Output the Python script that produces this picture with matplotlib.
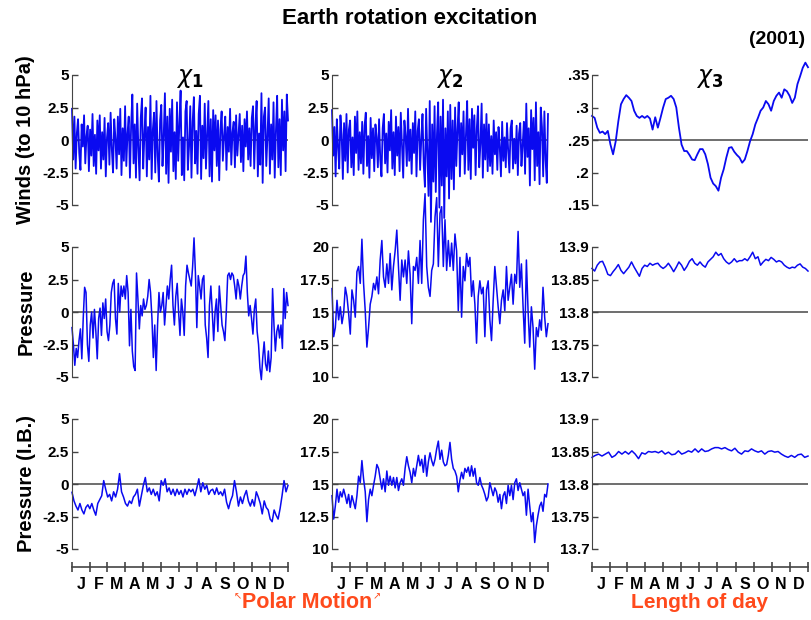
import numpy as np
import matplotlib
matplotlib.use('Agg')
import matplotlib.pyplot as plt

plt.rcParams['font.family'] = ['Liberation Sans', 'DejaVu Sans']
plt.rcParams['mathtext.fontset'] = 'dejavusans'

# ---- data (2001) ----
month_edges = [0, 31, 59, 90, 120, 151, 181, 212, 243, 273, 304, 334, 365]
month_labels = ['J', 'F', 'M', 'A', 'M', 'J', 'J', 'A', 'S', 'O', 'N', 'D']

winds_chi1 = [
    2.4, -1.5, 1.8, -2.2, 0.5, 1.6, -1.0, -2.3, 1.2, -0.5, 1.9, -1.8, 0.3, 1.1, -2.4, 0.8, -1.2, 2.0, -2.0, 0.4,
    -2.6, 1.5, -0.8, 1.9, -2.2, 0.6, -1.5, 1.7, -2.8, 0.2, 1.3, -1.9, 2.1, -0.7, -2.5, 1.6, 0.1, -2.2, 1.8, -1.1,
    2.4, -2.7, 0.9, -1.6, 2.6, -2.0, 0.5, 1.8, -2.9, 1.1,
    3.5, -1.8, 1.2, -2.9, 2.8, -0.6, -3.1, 1.7, 3.2, -2.2, 0.4, 2.5, -2.8, 1.0, -1.5, 3.4, -3.0, 0.8, 2.1, -2.5,
    3.0, -1.2, -3.2, 1.5, 2.7, -2.0, 0.3, 3.6, -2.6, 1.8, -3.3, 2.4, -0.9, 3.1, -2.4, 0.6, -3.0, 2.9, -1.6, 1.3,
    3.8, -2.7, 0.2, -3.1, 2.2, 3.0, -2.3, -0.5, 2.6, -2.9, 1.4, 3.3, -1.8, 0.7, -2.6, 2.0, 3.4, -3.0, 1.1, -1.4,
    2.8, -2.2, 0.5, 3.0, -2.8, 1.6, -3.2, 2.3, -0.8, 1.9,
    -2.0, 1.5, -3.1, 0.8, 2.2, -1.6, 0.3, 1.8, -2.3, 1.0, -0.9, 2.4, -1.9, 0.6, 1.4, -2.1, 1.9, -1.2, 0.4, 2.0,
    -1.7, 1.1, -2.4, 1.6, -0.5, 2.2, -1.5, 0.9, -2.0, 1.7,
    2.6, -2.2, 1.0, 3.0, -2.8, 0.5, -1.9, 3.6, -3.3, 1.8, 2.5, -2.0, 0.3, 3.2, -2.6, 1.2, -1.5, 2.9, -2.9, 0.7,
    3.4, -2.1, 1.6, -2.7, 3.1, -0.8, 2.2, -2.4, 3.5, 1.5,
]
winds_chi2 = [
    2.3, -1.2, 1.0, -2.8, 1.6, -0.5, -2.2, 1.9, 0.4, -3.0, 1.3, -1.6, 2.0, -2.5, 0.8, 1.5, -2.1, 0.2, -2.7, 1.8,
    -1.0, 2.2, -2.3, 0.6, -1.8, 1.4, -2.6, 1.1, 2.1, -2.0, 0.3, -2.9, 1.7, -1.4, 0.9,
    -2.4, 1.2, 0.2, -2.1, 1.6, -1.5, -2.8, 0.9, 2.0, -1.8, 0.5, -2.5, 1.4, -0.8, 2.3, -2.2, 0.6, -2.7, 1.8, -1.2,
    1.0, -2.4, 2.1, -0.4, -2.9, 1.5, 0.3, -2.0, 2.4, -1.6, 0.8, -2.6, 1.3, -1.0, 2.2, -2.8, 0.7, 1.6, -2.3, 0.1,
    2.0, -1.9,
    -3.6, 2.4, -1.0, -4.3, 3.0, -6.3, 1.2, -3.2, 2.6, -4.0, 0.5, 2.9, -5.2, 1.8, -3.5, 3.1, -6.0, 0.9, -2.8, 2.2,
    -4.5, 2.7, -3.0, 1.5, -3.8,
    2.5, -2.0, 0.8, 2.9, -2.8, 1.3, -1.1, 2.2, -2.6, 0.4, 3.0, -2.3, 1.6, -3.0, 2.4, -0.6, 1.9, -2.7, 0.9, 2.6,
    -2.1, -0.3, 2.8, -2.9, 1.2, -1.5, 2.0, -2.4,
    1.2, -2.0, 0.3, -2.6, 1.5, -1.1, 0.6, -2.3, 1.0, -0.5, -2.8, 1.4, -1.6, 0.2, -2.1, 1.3, -0.8, -2.5, 0.9, 1.5,
    -2.2, 0.1, -1.8, 1.1, -2.7, 0.5, 1.3, -2.0, -0.4, 1.4,
    -2.6, 2.8, -1.3, 0.9, -3.5, 2.3, -0.7, 1.7, -3.1, 2.9, -2.0, 0.6, -3.4, 2.5, 1.0, -2.8, 2.2, -1.5, -3.3, 2.0,
]
winds_chi3 = [
    .287, .284, .269, .261, .263, .259, .264, .243, .228, .248, .279, .305, .313, .319, .315, .310, .295, .287,
    .284, .287, .284, .287, .283, .266, .285, .269, .284, .300, .313, .315, .318, .313, .300, .269, .243, .233,
    .233, .227, .220, .219, .228, .236, .236, .228, .213, .192, .183, .179, .172, .192, .205, .223, .238, .239,
    .232, .227, .223, .215, .220, .233, .248, .259, .274, .284, .295, .300, .310, .305, .295, .310, .318, .323,
    .315, .328, .325, .318, .307, .315, .336, .348, .361, .369, .362,
]
pres_chi1 = [
    -1.2, -2.5, -4.1, -2.8, -3.5, -2.2, -1.3, -3.6, -0.5, 1.9, 1.5, -2.5, -3.8, -1.0, 0.0, -2.0, 0.2, -1.5, -3.6,
    -0.5, 0.3, -1.8, 0.7, -0.5, 1.0, -1.5, -2.2, -1.0, 1.5, 2.2, 2.5, -0.5, -1.7, 2.2, 0.0, 2.0, 1.2, 2.0, 1.0,
    2.8, 1.5, -2.6, 0.2, -3.0, -4.2, -4.5, 3.0, 1.0, -1.3, 0.5, -0.3, 1.0, 0.2, 0.5, 1.2, 2.5, 1.5, -0.5, -3.5,
    -1.0, -4.5, -1.0, 1.5, 0.0, 0.5, 1.5, -1.0, 0.5, 2.0, 1.0, 2.5, 3.6, 0.5, -1.0, 1.2, 2.2, 0.0, -1.8, 1.0,
    0.0, -1.8, 2.0, 3.6, 3.0, 2.5, 2.0, 3.5, 5.7, 3.0, -1.2, 2.8, 2.0, 1.0, 2.5, 2.8, -1.0, -2.0, -3.5, 0.5,
    2.0, 0.0, -2.2, 0.0, 1.0, -1.5, 2.0, 0.5, -1.0, -1.5, -2.2, 0.0, 2.8, 3.0, 2.5, 3.0, 2.8, 2.0, 1.0, 2.5,
    2.0, 1.0, 2.0, 2.8, 3.0, 4.3, 1.5, -0.3, 0.5, -0.5, -1.7, 0.2, 1.0, -1.5, -2.5, -4.3, -5.2, -3.5, -2.3,
    -4.0, -4.5, -3.0, -4.6, -3.5, 1.8, -1.0, -3.0, -1.5, -1.0, -2.0, -1.0, -2.8, 1.8, -0.5, 1.5, 0.5,
]
pres_chi2 = [
    16.8, 13.1, 13.8, 15.9, 14.4, 15.4, 14.1, 14.9, 16.9, 16.2, 14.9, 13.3, 16.7, 15.9, 14.6, 18.1, 18.5, 17.2,
    20.6, 17.2, 15.1, 12.3, 13.8, 15.6, 16.2, 17.2, 16.7, 17.7, 16.4, 19.0, 20.5, 17.7, 16.9, 18.7, 17.2, 19.5,
    16.7, 18.5, 19.7, 21.3, 18.5, 15.9, 19.0, 17.7, 19.0, 17.2, 19.7, 17.9, 14.1, 18.5, 18.2, 19.2, 17.2, 20.5,
    17.2, 22.1, 24.1, 18.5, 16.9, 16.2, 18.2, 18.7, 22.3, 23.8, 18.5, 22.6, 23.1, 18.5, 22.1, 18.2, 20.5, 18.5,
    20.3, 18.2, 21.0, 19.7, 15.1, 19.2, 14.6, 18.5, 17.4, 19.5, 18.5, 19.2, 16.2, 17.4, 15.6, 12.6, 16.2, 17.4,
    16.4, 16.9, 13.1, 16.7, 17.4, 14.4, 12.8, 15.9, 18.5, 16.9, 15.4, 14.1, 15.9, 16.7, 15.1, 18.5, 15.9, 16.9,
    17.9, 15.6, 17.9, 17.2, 21.2, 16.9, 18.7, 15.4, 12.6, 19.0, 15.1, 12.3, 15.4, 13.8, 10.6, 13.8, 13.1, 14.4,
    13.6, 16.9, 14.6, 13.1, 14.1,
]
pres_chi3 = [
    13.867, 13.863, 13.872, 13.877, 13.878, 13.869, 13.858, 13.856, 13.862, 13.867, 13.873, 13.864, 13.859,
    13.864, 13.869, 13.877, 13.869, 13.862, 13.855, 13.867, 13.872, 13.870, 13.875, 13.872, 13.874, 13.875,
    13.870, 13.867, 13.870, 13.875, 13.869, 13.862, 13.869, 13.877, 13.872, 13.864, 13.870, 13.878, 13.882,
    13.875, 13.872, 13.877, 13.872, 13.869, 13.877, 13.881, 13.885, 13.892, 13.887, 13.890, 13.882, 13.877,
    13.874, 13.877, 13.882, 13.877, 13.879, 13.879, 13.882, 13.879, 13.885, 13.892, 13.882, 13.885, 13.872,
    13.877, 13.881, 13.879, 13.884, 13.881, 13.877, 13.879, 13.877, 13.872, 13.869, 13.867, 13.869, 13.868,
    13.872, 13.874, 13.869, 13.867, 13.863,
]
ib_chi1 = [
    -0.64, -1.3, -1.7, -2.0, -1.5, -2.0, -2.3, -1.8, -1.6, -1.9, -1.5, -2.0, -2.4, -1.5, -1.2, -0.9, 0.26, -0.4,
    -1.0, -0.8, -1.3, -0.6, -1.0, -0.4, 0.8, -0.6, -1.0, -1.5, -1.7, -1.3, -1.5, -1.0, -0.8, -0.4, -1.7, -0.9,
    -0.1, 0.5, -0.6, -0.3, -0.8, -0.4, -0.9, -0.6, -1.3, 0.26, -0.1, 0.4, -0.6, -0.3, -0.8, -0.4, -0.9, -0.4,
    -0.8, -0.5, -1.0, -0.4, -0.8, -0.4, -0.6, -0.4, -0.9, -0.3, 0.4, -0.6, 0.1, -0.4, -0.1, -0.8, -0.5, -0.4,
    -0.8, -0.3, -0.8, -0.6, -0.9, -0.4, -1.4, -1.9, -1.3, -0.9, 0.26, -0.6, -1.7, -1.0, -1.5, -0.9, -0.5, -1.3,
    -1.7, -1.2, -1.7, -0.6, -1.0, -1.5, -2.3, -1.3, -1.8, -2.0, -2.7, -2.9, -2.0, -2.4, -2.7, -1.9, -0.9, 0.26,
    -0.6, -0.1,
]
ib_chi2 = [
    14.1, 12.3, 13.3, 14.6, 13.6, 14.4, 14.0, 14.6, 14.1, 13.5, 14.2, 13.2, 14.1, 13.6, 13.1, 14.1, 15.6, 15.1,
    16.8, 15.4, 14.4, 12.1, 13.8, 14.6, 14.1, 14.9, 15.6, 16.5, 16.2, 15.4, 14.6, 15.4, 14.4, 16.0, 14.9, 15.6,
    14.9, 15.5, 14.7, 15.5, 14.5, 15.1, 15.4, 14.9, 16.2, 17.1, 16.4, 15.9, 15.1, 16.2, 15.6, 16.4, 17.2, 16.4,
    16.9, 15.9, 17.2, 15.6, 16.7, 17.4, 16.8, 16.4, 16.9, 17.7, 18.3, 16.9, 17.6, 16.7, 16.4, 16.5, 17.2, 18.2,
    16.9, 16.2, 16.0, 15.6, 14.4, 15.3, 15.9, 15.4, 16.2, 15.9, 16.3, 15.6, 16.4, 15.6, 16.2, 15.1, 14.9, 15.5,
    14.9, 14.6, 14.2, 13.7, 14.0, 15.1, 14.6, 14.1, 14.7, 14.4, 13.6, 14.2, 13.1, 14.1, 14.4, 13.5, 14.9, 14.1,
    14.9, 13.8, 15.1, 15.4, 14.5, 15.1, 14.6, 14.1, 14.4, 12.6, 14.6, 13.3, 12.1, 12.8, 10.5, 11.8, 12.6, 13.3,
    13.6, 12.9, 14.2, 14.0, 15.0,
]
ib_chi3 = [
    13.841, 13.844, 13.846, 13.843, 13.846, 13.849, 13.841, 13.844, 13.850, 13.846, 13.850, 13.846, 13.851,
    13.846, 13.839, 13.848, 13.846, 13.850, 13.849, 13.850, 13.848, 13.851, 13.846, 13.849, 13.845, 13.846,
    13.851, 13.846, 13.848, 13.851, 13.849, 13.854, 13.849, 13.854, 13.850, 13.851, 13.854, 13.856, 13.856,
    13.854, 13.856, 13.853, 13.851, 13.855, 13.849, 13.846, 13.851, 13.850, 13.854, 13.851, 13.849, 13.851,
    13.846, 13.850, 13.851, 13.849, 13.850, 13.846, 13.843, 13.841, 13.844, 13.841, 13.845, 13.846, 13.841,
    13.843,
]

rows = [
    [winds_chi1, winds_chi2, winds_chi3],
    [pres_chi1, pres_chi2, pres_chi3],
    [ib_chi1, ib_chi2, ib_chi3],
]
yticks = [
    [[-5, -2.5, 0, 2.5, 5], [-5, -2.5, 0, 2.5, 5], [.15, .2, .25, .3, .35]],
    [[-5, -2.5, 0, 2.5, 5], [10, 12.5, 15, 17.5, 20], [13.7, 13.75, 13.8, 13.85, 13.9]],
    [[-5, -2.5, 0, 2.5, 5], [10, 12.5, 15, 17.5, 20], [13.7, 13.75, 13.8, 13.85, 13.9]],
]
ytick_labels = [
    [['-5', '-2.5', '0', '2.5', '5'], ['-5', '-2.5', '0', '2.5', '5'], ['.15', '.2', '.25', '.3', '.35']],
    [['-5', '-2.5', '0', '2.5', '5'], ['10', '12.5', '15', '17.5', '20'], ['13.7', '13.75', '13.8', '13.85', '13.9']],
    [['-5', '-2.5', '0', '2.5', '5'], ['10', '12.5', '15', '17.5', '20'], ['13.7', '13.75', '13.8', '13.85', '13.9']],
]
row_labels = ['Winds (to 10 hPa)', 'Pressure', 'Pressure (I.B.)']
col_titles = [r'$\chi_\mathbf{1}$', r'$\chi_\mathbf{2}$', r'$\chi_\mathbf{3}$']
line_widths = [1.3, 1.1, 1.1]

# ---- figure ----
W, H = 812, 620
fig = plt.figure(figsize=(W / 100, H / 100), dpi=100)

lefts = [72, 332, 592]
tops = [75, 247, 419]
aw, ah = 216, 130
gray = '#444444'

for r in range(3):
    for c in range(3):
        ax = fig.add_axes([lefts[c] / W, (H - tops[r] - ah) / H, aw / W, ah / H])
        vals = rows[r][c]
        days = np.linspace(0, 365, len(vals))
        ref = yticks[r][c][2]
        ax.axhline(ref, color='#555555', lw=1.2, zorder=1)
        ax.plot(days, vals, color='#0a0af0', lw=line_widths[r], zorder=2, clip_on=False)
        ax.set_xlim(0, 365)
        ax.set_ylim(yticks[r][c][0], yticks[r][c][-1])
        ax.set_yticks(yticks[r][c])
        ax.set_yticklabels(ytick_labels[r][c], fontsize=11, fontweight='bold')
        ax.tick_params(axis='y', direction='in', length=4, width=1, color=gray, pad=2)
        for s in ['top', 'right']:
            ax.spines[s].set_visible(False)
        ax.spines['left'].set_color(gray)
        ax.patch.set_alpha(0)
        if r < 2:
            ax.spines['bottom'].set_visible(False)
            ax.set_xticks([])
        else:
            ax.spines['bottom'].set_position(('outward', 13))
            ax.spines['bottom'].set_color(gray)
            ax.spines['bottom'].set_linewidth(1.2)
            ax.set_xticks(month_edges)
            ax.set_xticklabels([])
            ax.tick_params(axis='x', which='major', direction='inout', length=7, width=1.2, color=gray)
            mids = [(month_edges[i] + month_edges[i + 1]) / 2 for i in range(12)]
            ax.set_xticks(mids, minor=True)
            ax.set_xticklabels(month_labels, minor=True, fontsize=11.5, fontweight='bold')
            ax.tick_params(axis='x', which='minor', length=0, pad=7)

for r in range(3):
    fig.text(26 / W, 1 - (tops[r] + ah / 2) / H, row_labels[r], rotation=90,
             ha='center', va='center', fontsize=14.5, fontweight='bold')

for c in range(3):
    fig.text((lefts[c] + aw / 2 + 10) / W, 1 - 79 / H, col_titles[c],
             ha='center', va='center', fontsize=17)

fig.text(410 / W, 1 - 18 / H, 'Earth rotation excitation', ha='center', va='center',
         fontsize=16, fontweight='bold')
fig.text(805 / W, 1 - 39 / H, '(2001)', ha='right', va='center', fontsize=14, fontweight='bold')

orange = '#ff4a1c'
fig.text(307 / W, 1 - 603 / H, 'Polar Motion', ha='center', va='center',
         fontsize=15.5, fontweight='bold', color=orange)
fig.text(238 / W, 1 - 596 / H, '\u2196', ha='center', va='center', fontsize=7,
         color=orange, family='DejaVu Sans')
fig.text(377 / W, 1 - 596 / H, '\u2197', ha='center', va='center', fontsize=7,
         color=orange, family='DejaVu Sans')
fig.text(700 / W, 1 - 603 / H, 'Length of day', ha='center', va='center',
         fontsize=15, fontweight='bold', color=orange)

fig.savefig('out.png', dpi=100)
